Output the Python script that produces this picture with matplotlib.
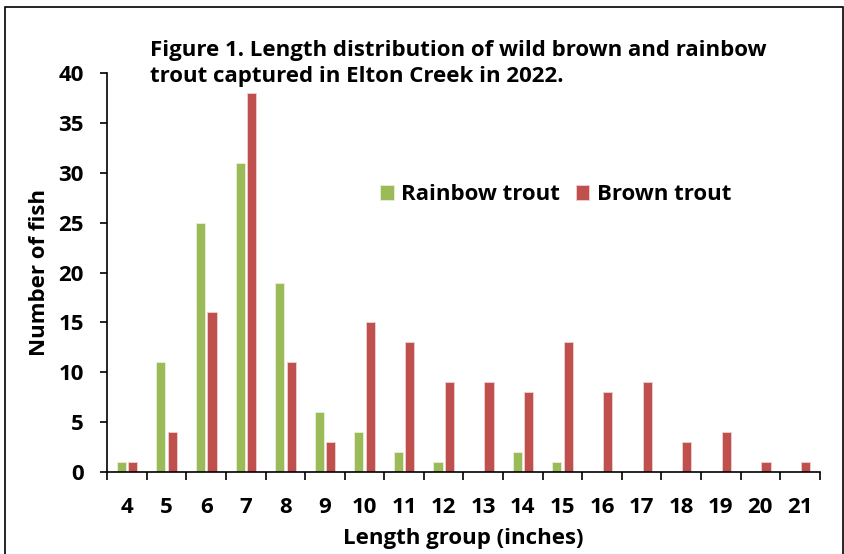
import numpy as np
import matplotlib.pyplot as plt
from matplotlib.patches import Rectangle

plt.rcParams['font.family'] = ['Open Sans', 'DejaVu Sans']
plt.rcParams['font.weight'] = 'bold'

laengen = [4, 5, 6, 7, 8, 9, 10, 11, 12, 13, 14, 15, 16, 17, 18, 19, 20, 21]
rainbow = [1, 11, 25, 31, 19, 6, 4, 2, 1, 0, 2, 1, 0, 0, 0, 0, 0, 0]
brown = [1, 4, 16, 38, 11, 3, 15, 13, 9, 9, 8, 13, 8, 9, 3, 4, 1, 1]

gruen = '#9BBB59'
rot = '#C0504D'
fs = 16

fig = plt.figure(figsize=(8.45, 5.54), dpi=100)
ax = fig.add_axes([0.127, 0.148, 0.843, 0.72])

x = np.arange(len(laengen))
b = 0.23
ax.bar(x - 0.145, rainbow, b, color=gruen, edgecolor='#e8f0d8', linewidth=0.6, label='Rainbow trout')
ax.bar(x + 0.145, brown, b, color=rot, edgecolor='#f0d0d0', linewidth=0.6, label='Brown trout')

ax.set_xlim(-0.5, len(laengen) - 0.5)
ax.set_ylim(0, 40)
ax.set_yticks(range(0, 41, 5))
ax.set_xticks(x)
ax.set_xticklabels([str(l) for l in laengen])
ax.set_xticks(np.arange(-0.5, len(laengen)), minor=True)
ax.tick_params(axis='x', which='major', length=0, labelsize=fs, pad=18)
ax.tick_params(axis='x', which='minor', length=6, direction='out', width=1.2)
ax.tick_params(axis='y', labelsize=fs, length=5, width=1.2, direction='out', pad=12)
for s in ['top', 'right']:
    ax.spines[s].set_visible(False)
for s in ['left', 'bottom']:
    ax.spines[s].set_linewidth(1.2)

ax.set_xlabel('Length group (inches)', fontsize=fs, fontweight='bold', labelpad=7)
ax.set_ylabel('Number of fish', fontsize=fs, fontweight='bold', labelpad=6)

ax.legend(loc='center left', bbox_to_anchor=(0.355, 0.695), ncol=2, frameon=False, fontsize=fs,
          handlelength=0.6, handleheight=0.6, columnspacing=0.7, handletextpad=0.35)

fig.text(0.177, 0.886, 'Figure 1. Length distribution of wild brown and rainbow\ntrout captured in Elton Creek in 2022.',
         fontsize=fs, fontweight='bold', ha='left', va='center', linespacing=1.3)

fig.patches.append(Rectangle((0.006, -0.01), 0.992, 0.998, transform=fig.transFigure,
                             fill=False, edgecolor='black', linewidth=1.2))

fig.savefig('out.png', dpi=100)
